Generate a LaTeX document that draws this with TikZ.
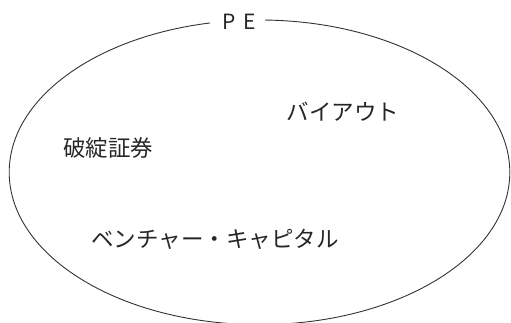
\documentclass[tikz,border=0pt]{standalone}
\usepackage{fontspec}
\setmainfont{Noto Sans CJK JP}
\begin{document}
\begin{tikzpicture}[x=1pt,y=-1pt,
  lbl/.style={font=\fontsize{22.5}{24}\selectfont, text=black!85, inner sep=0pt}]
\useasboundingbox (0,0) rectangle (511,322);
\begin{scope}
\clip (0,0) rectangle (511,322);
\draw[black!80, line width=0.9pt] (259.5,172.3) ellipse [x radius=250.3, y radius=152.3];
\end{scope}
\node[fill=white, minimum width=55pt, minimum height=12pt, inner sep=0pt] (pe) at (237.5,21) {};
\node[font=\fontsize{21}{22}\selectfont, text=black!85, inner sep=0pt] (pet) at (239.5,22) {P\hspace{0.35em}E};
\node[lbl] (buyout) at (343,112) {バイアウト};
\node[lbl] (distress) at (108,148) {破綻証券};
\node[lbl] (vc) at (215,239) {ベンチャー・キャピタル};
\end{tikzpicture}
\end{document}
